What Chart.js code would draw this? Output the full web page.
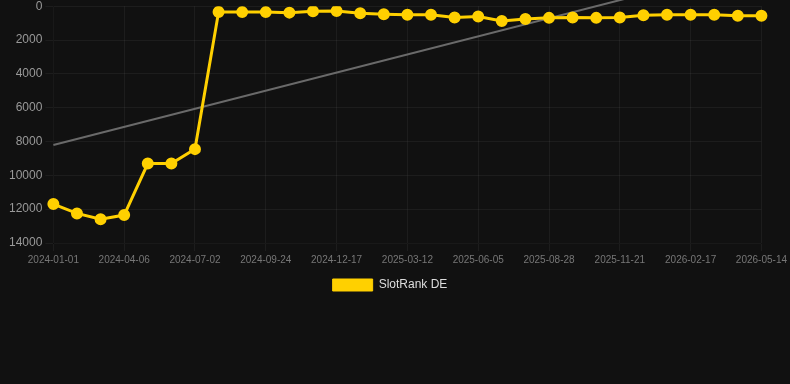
<!DOCTYPE html>
<html>
<head>
<meta charset="utf-8">
<script src="https://cdn.jsdelivr.net/npm/chart.js@4"></script>
<style>
  html, body { margin: 0; padding: 0; background: #111111; overflow: hidden; }
  #wrap { width: 790px; height: 388px; position: relative; top: -4px; }
</style>
</head>
<body>
<div id="wrap"><canvas id="rankChart"></canvas></div>
<script>
const dates = [
  "2024-01-01", "2024-02-02", "2024-03-05", "2024-04-06", "2024-05-05", "2024-06-03",
  "2024-07-02", "2024-07-30", "2024-08-27", "2024-09-24", "2024-10-22", "2024-11-19",
  "2024-12-17", "2025-01-14", "2025-02-11", "2025-03-12", "2025-04-09", "2025-05-07",
  "2025-06-05", "2025-07-03", "2025-07-31", "2025-08-28", "2025-09-25", "2025-10-23",
  "2025-11-21", "2025-12-20", "2026-01-19", "2026-02-17", "2026-03-17", "2026-04-15",
  "2026-05-14"
];

const rankDE = [
  11700, 12250, 12600, 12350, 9300, 9300,
  8450, 340, 350, 350, 380, 300,
  280, 410, 470, 510, 510, 670,
  610, 880, 750, 690, 670, 690,
  670, 530, 510, 510, 510, 570,
  570
];

// trend line: just the two ends
const trendStart = 8210;
const trendEnd = -2500;

const ctx = document.getElementById("rankChart").getContext("2d");

const chart = new Chart(ctx, {
  type: "line",
  data: {
    labels: dates,
    datasets: [
      {
        label: "SlotRank DE",
        data: rankDE,
        borderColor: "#ffd000",
        backgroundColor: "#ffd000",
        borderWidth: 3,
        pointRadius: 4.5,
        pointHoverRadius: 6,
        tension: 0,
        fill: false,
      },
      {
        label: "trend",
        data: [
          { x: dates[0], y: trendStart },
          { x: dates[dates.length - 1], y: trendEnd },
        ],
        borderColor: "#6a6a6a",
        borderWidth: 2,
        pointRadius: 0,
        fill: false,
        clip: false,
      },
    ],
  },
  options: {
    responsive: true,
    maintainAspectRatio: false,
    animation: false,
    layout: {
      padding: { top: 2, right: 16, bottom: 83, left: 6 },
    },
    plugins: {
      legend: {
        position: "bottom",
        labels: {
          color: "#dddddd",
          boxWidth: 40,
          boxHeight: 12,
          font: { family: "Liberation Sans, Arial, sans-serif", size: 12 },
          filter: (item) => item.text !== "trend",
          generateLabels: (c) =>
            Chart.defaults.plugins.legend.labels.generateLabels(c).map((l) => ({ ...l, lineWidth: 1 })),
        },
      },
      tooltip: { enabled: false },
    },
    scales: {
      x: {
        grid: { color: "rgba(255,255,255,0.05)" },
        ticks: {
          color: "#777777",
          maxRotation: 0,
          autoSkip: false,
          font: { family: "Liberation Sans, Arial, sans-serif", size: 10 },
          callback: function (val, i) {
            return i % 3 === 0 ? dates[i] : null;
          },
        },
      },
      y: {
        reverse: true,
        min: 0,
        max: 14000,
        grid: { color: "rgba(255,255,255,0.05)" },
        ticks: {
          stepSize: 2000,
          color: "#999999",
          font: { family: "Liberation Sans, Arial, sans-serif", size: 12 },
          callback: (v) => String(v),
        },
      },
    },
  },
});
</script>
</body>
</html>
